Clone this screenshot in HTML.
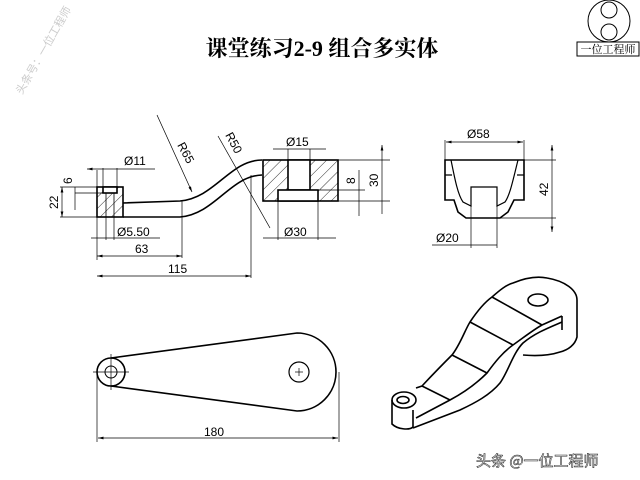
<!DOCTYPE html>
<html><head><meta charset="utf-8"><style>
body{margin:0;background:#fff;width:640px;height:480px;overflow:hidden;position:relative;font-family:"Liberation Sans","Noto Sans CJK SC",sans-serif}
</style></head><body>
<svg width="640" height="480" viewBox="0 0 640 480" style="position:absolute;left:0;top:0">
<defs>
<pattern id="h" width="8" height="8" patternUnits="userSpaceOnUse" patternTransform="rotate(45)"><line x1="0" y1="0" x2="0" y2="8" stroke="#000" stroke-width="0.8"/></pattern>
<marker id="a" markerWidth="8" markerHeight="6" refX="8" refY="3" orient="auto-start-reverse"><path d="M0,1 L8,3 L0,5z" fill="#000"/></marker>
</defs>
<text x="322" y="56" font-size="22" font-weight="bold" text-anchor="middle" font-family="'Liberation Serif','Noto Serif CJK SC',serif">课堂练习2-9  组合多实体</text>
<text x="22" y="95" font-size="11" fill="#ccc" transform="rotate(-60 22 95)" font-family="'Noto Sans CJK SC',sans-serif">头条号：一位工程师</text>
<g stroke="#000" fill="none" stroke-width="1">
<circle cx="609" cy="21" r="21"/><circle cx="609" cy="10" r="8"/><circle cx="609" cy="32" r="8"/>
<rect x="577" y="42" width="62" height="14"/>
</g>
<text x="608" y="53" font-size="11" text-anchor="middle" font-family="'Noto Serif CJK SC',serif">一位工程师</text>
<g stroke="#000" fill="none" stroke-width="1.6">
<!-- front view -->
<rect x="97" y="187" width="26" height="30" fill="url(#h)"/>
<rect x="103" y="187" width="14" height="6" fill="#fff"/>
<line x1="106" y1="193" x2="106" y2="217" stroke-width="0.8"/><line x1="114" y1="193" x2="114" y2="217" stroke-width="0.8"/>
<path d="M123,203 L180,201 C215,198 230,160 262,160"/>
<path d="M123,217 L180,217 C215,214 230,176 262,175"/>
<rect x="263" y="160" width="75" height="41" fill="url(#h)"/>
<rect x="288" y="160" width="22" height="30" fill="#fff"/>
<rect x="278" y="190" width="40" height="11" fill="#fff"/>
<!-- side view -->
<path d="M445,160 L524,160 L524,200 L514,200 L508,212 L500,218 L466,218 L458,212 L454,200 L445,200 Z"/>
<path d="M445,175 L452,175 M517,175 L524,175" stroke-width="1.2"/>
<path d="M451,160 C455,180 458,195 463,202 L471,206 L471,187 L497,187 L497,206 L505,202 C510,195 513,180 518,160" stroke-width="1.2"/>
<!-- top view -->
<circle cx="111" cy="372" r="14"/>
<circle cx="111" cy="372" r="6" stroke-width="1"/>
<path d="M111,358 L297,333 A39,39 0 0 1 297,411 L111,386"/>
<circle cx="299" cy="372" r="10" stroke-width="1.2"/>
<!-- iso -->
<path d="M416,388 L422,386 C435,372 445,362 452,355 C460,345 465,330 470,322 C478,310 485,302 492,297 C500,290 506,285 513,283 C525,278 537,276 547,278 C565,281 577,290 577,300 L577,337 C575,345 568,350 560,352 C548,356 535,356 523,355"/>
<path d="M416,418 L450,400 C465,392 478,382 487,373 C495,362 503,352 513,345 C523,338 533,330 542,325 L562,316"/>
<path d="M413,428 L460,410 C475,403 490,395 500,383 C508,372 513,353 523,343 C535,333 548,328 562,322"/>
<path d="M562,316 L562,330"/>
<line x1="492" y1="297" x2="542" y2="325"/><line x1="470" y1="322" x2="513" y2="345"/><line x1="452" y1="355" x2="487" y2="373"/><line x1="422" y1="386" x2="450" y2="400"/>
<ellipse cx="538" cy="300" rx="10" ry="6"/>
<ellipse cx="404" cy="400" rx="12" ry="8"/><ellipse cx="403" cy="400" rx="6" ry="3.5"/>
<path d="M392,400 L392,424 C398,430 410,430 413,427 L413,410"/>
</g>
<g stroke="#000" stroke-width="0.7" fill="none">
<line x1="60" y1="187" x2="97" y2="187"/><line x1="60" y1="217" x2="97" y2="217"/>
<line x1="62" y1="187" x2="62" y2="217" marker-start="url(#a)" marker-end="url(#a)"/>
<line x1="75" y1="187" x2="75" y2="210"/><line x1="75" y1="193" x2="103" y2="193"/>
<line x1="97" y1="170" x2="97" y2="260"/><line x1="103" y1="168" x2="103" y2="187"/><line x1="117" y1="168" x2="117" y2="187"/>
<line x1="87" y1="169" x2="155" y2="169" marker-start="url(#a)"/>
<line x1="91" y1="238" x2="160" y2="238"/><line x1="106" y1="217" x2="106" y2="240"/><line x1="114" y1="217" x2="114" y2="240"/>
<line x1="97" y1="256" x2="182" y2="256" marker-start="url(#a)" marker-end="url(#a)"/><line x1="182" y1="200" x2="182" y2="258"/>
<line x1="97" y1="276" x2="251" y2="276" marker-start="url(#a)" marker-end="url(#a)"/><line x1="251" y1="175" x2="251" y2="278"/>
<line x1="157" y1="115" x2="192" y2="192" marker-end="url(#a)"/>
<line x1="218" y1="136" x2="270" y2="228"/>
<line x1="273" y1="149" x2="326" y2="149"/><line x1="288" y1="149" x2="288" y2="160"/><line x1="310" y1="149" x2="310" y2="160"/>
<line x1="278" y1="201" x2="278" y2="240"/><line x1="318" y1="201" x2="318" y2="240"/><line x1="263" y1="238" x2="336" y2="238"/>
<line x1="338" y1="160" x2="390" y2="160"/><line x1="338" y1="201" x2="390" y2="201"/><line x1="318" y1="190" x2="365" y2="190"/>
<line x1="382" y1="145" x2="382" y2="214" marker-start="url(#a)"/><line x1="359" y1="170" x2="359" y2="216"/>
<line x1="445" y1="140" x2="445" y2="160"/><line x1="524" y1="140" x2="524" y2="160"/>
<line x1="446" y1="142" x2="523" y2="142" marker-start="url(#a)" marker-end="url(#a)"/>
<line x1="524" y1="160" x2="556" y2="160"/><line x1="500" y1="218" x2="556" y2="218"/>
<line x1="552" y1="145" x2="552" y2="232" marker-start="url(#a)" marker-end="url(#a)"/>
<line x1="471" y1="206" x2="471" y2="248"/><line x1="497" y1="206" x2="497" y2="248"/>
<line x1="432" y1="245" x2="497" y2="245"/>
<line x1="97" y1="372" x2="97" y2="442"/><line x1="339" y1="372" x2="339" y2="442"/>
<line x1="98" y1="438" x2="338" y2="438" marker-start="url(#a)" marker-end="url(#a)"/>
<line x1="93" y1="372" x2="129" y2="372"/><line x1="111" y1="354" x2="111" y2="390"/>
<line x1="295" y1="372" x2="303" y2="372"/><line x1="299" y1="368" x2="299" y2="376"/>
</g>
<g font-size="12" fill="#000">
<text x="124" y="165">Ø11</text><text x="117" y="236">Ø5.50</text>
<text x="135" y="253">63</text><text x="168" y="273">115</text>
<text x="286" y="146">Ø15</text><text x="284" y="236">Ø30</text>
<text x="467" y="138">Ø58</text><text x="436" y="242">Ø20</text>
<text x="204" y="436">180</text>
<text transform="translate(58,209) rotate(-90)">22</text>
<text transform="translate(72,184) rotate(-90)">6</text>
<text transform="translate(355,184) rotate(-90)">8</text>
<text transform="translate(378,187) rotate(-90)">30</text>
<text transform="translate(548,196) rotate(-90)">42</text>
<text transform="translate(177,145) rotate(62)">R65</text>
<text transform="translate(225,135) rotate(62)">R50</text>
</g>
<text x="476" y="466" font-size="15" fill="#fff" stroke="#333" stroke-width="0.6" font-family="'Noto Sans CJK SC',sans-serif">头条 @一位工程师</text>
</svg>
</body></html>
